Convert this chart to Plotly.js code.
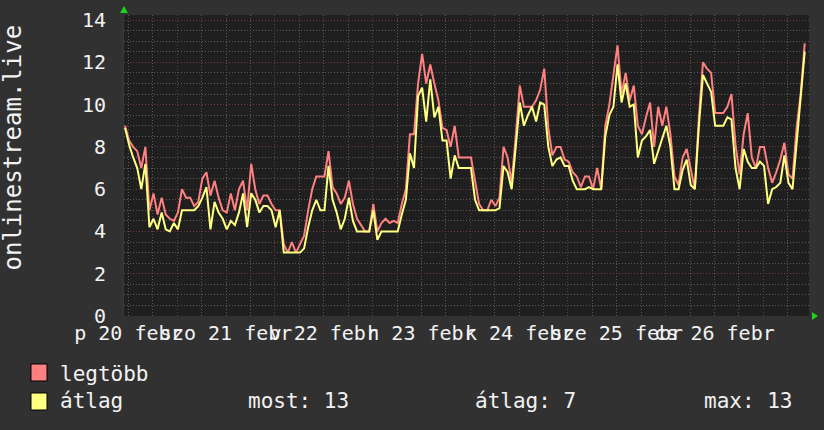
<!DOCTYPE html>
<html>
<head>
<meta charset="utf-8">
<script src="https://cdn.plot.ly/plotly-3.0.1.min.js"></script>
<style>
html,body{margin:0;padding:0;background:#313131;}
#chart{width:824px;height:430px;}
</style>
</head>
<body>
<div id="chart"></div>
<script>
// ---- data (hourly samples) ----
const startTime = "2026-02-20 11:10";
const stepMinutes = 60;

const legtobb = [
 9.0,8.3,8.0,7.8,7.0,8.0,5.0,5.8,4.8,5.6,4.8,4.6,4.5,4.9,6.0,5.6,5.6,5.2,5.4,6.5,
 6.8,5.7,6.4,5.6,5.0,4.9,5.8,5.0,6.0,6.4,5.0,7.2,6.0,5.3,5.7,5.7,5.3,5.0,5.0,3.4,
 3.0,3.5,3.0,3.4,3.8,5.0,6.0,6.6,6.6,6.6,7.8,6.1,5.8,5.3,5.6,6.4,5.3,4.6,4.3,4.0,
 4.0,5.3,4.0,4.4,4.6,4.4,4.5,4.4,5.3,6.0,8.6,8.6,11.0,12.4,11.0,11.9,11.0,10.2,8.9,8.8,
 8.0,9.0,7.5,7.5,7.5,7.5,6.4,5.3,5.0,5.0,5.5,5.2,5.6,8.0,7.5,6.3,8.5,10.9,9.9,9.9,
 9.9,10.2,10.7,11.7,8.9,7.6,8.0,8.0,7.4,7.3,6.8,6.6,6.1,6.6,6.6,6.0,7.0,6.0,9.0,10.0,
 11.5,12.8,10.5,11.5,10.2,10.9,9.0,8.6,9.4,10.1,8.0,9.9,9.0,9.9,8.6,6.6,6.2,7.5,7.9,7.0,
 6.0,9.4,12.0,11.7,11.5,9.6,9.6,9.6,9.9,10.5,8.1,6.7,8.6,9.6,7.5,7.0,8.0,8.0,7.0,6.3,
 6.8,7.4,8.2,6.7,6.5,8.9,10.5,12.9
];
const atlag = [
 8.9,8.1,7.5,7.0,6.0,7.2,4.2,4.6,4.1,4.9,4.1,4.0,4.4,4.1,5.0,5.0,5.0,5.0,5.2,5.6,
 6.1,4.1,5.4,4.9,4.6,4.1,4.5,4.3,4.9,5.8,4.2,5.8,5.5,4.9,5.2,5.2,5.0,4.2,5.0,3.0,
 3.0,3.0,3.0,3.0,3.2,4.2,5.0,5.5,5.0,5.0,7.1,5.5,4.9,4.1,4.6,5.6,4.5,4.0,4.0,4.0,
 4.0,5.0,3.6,4.0,4.0,4.0,4.0,4.0,4.8,5.5,7.7,7.0,10.4,10.8,9.2,11.2,9.4,9.9,8.3,8.3,
 6.5,7.6,7.0,7.0,7.0,7.0,5.5,5.0,5.0,5.0,5.0,5.0,5.1,7.1,6.8,6.0,8.0,10.1,9.0,9.5,
 9.9,9.2,10.1,10.0,8.0,7.1,7.4,7.5,7.1,7.1,6.4,6.0,6.0,6.0,6.1,6.0,6.0,6.0,8.5,9.5,
 9.9,11.9,10.1,11.0,9.9,10.0,7.5,8.3,8.5,8.8,7.2,7.8,8.4,9.0,8.0,6.0,6.0,6.9,7.4,6.2,
 6.0,9.0,11.4,11.0,10.6,9.0,9.0,9.0,9.4,9.3,7.0,6.0,7.9,7.3,7.0,7.0,7.3,7.1,5.3,6.0,
 6.1,6.3,7.6,6.3,6.0,8.2,10.3,12.5
];

const dayLabels = ["p 20 febr","szo 21 febr","v 22 febr","h 23 febr","k 24 febr","sze 25 febr","cs 26 febr"];
const dayNoons  = ["2026-02-20 12:00","2026-02-21 12:00","2026-02-22 12:00","2026-02-23 12:00",
                   "2026-02-24 12:00","2026-02-25 12:00","2026-02-26 12:00"];
const yTickVals = [0,2,4,6,8,10,12,14];

const seriesNames = ["legtöbb","átlag"];
const seriesColors = ["#ff8080","#ffff80"];
const statLabels = ["most: 13","átlag: 7","max: 13"];
const yTitle = "onlinestream.live";

// ---- helpers ----
function pad(n){return (n<10?"0":"")+n;}
function fmt(ms){
  const d=new Date(ms);
  return d.getUTCFullYear()+"-"+pad(d.getUTCMonth()+1)+"-"+pad(d.getUTCDate())+" "+
         pad(d.getUTCHours())+":"+pad(d.getUTCMinutes())+":"+pad(d.getUTCSeconds());
}
function parse(s){
  const [a,b]=s.split(" ");const [Y,M,D]=a.split("-").map(Number);const [h,m]=b.split(":").map(Number);
  return Date.UTC(Y,M-1,D,h,m);
}
const t0 = parse(startTime);
const step = stepMinutes*60000;
const xs = legtobb.map((_,i)=>fmt(t0+i*step));
const H = 3600000;
const xRange = [fmt(t0-0.25*H), fmt(t0+168.05*H)];

const FONT = "DejaVu Sans Mono";
const txt = "#f2f2f2";

const traces = [
  {x:xs, y:legtobb, name:seriesNames[0], type:"scatter", mode:"lines",
   line:{color:seriesColors[0], width:2}, xaxis:"x", yaxis:"y", hoverinfo:"skip"},
  {x:xs, y:atlag, name:seriesNames[1], type:"scatter", mode:"lines",
   line:{color:seriesColors[1], width:2}, xaxis:"x2", yaxis:"y", hoverinfo:"skip"}
];

// legend / stats / y title as annotations
const annotations = [
  {text:yTitle, xref:"paper", yref:"paper", x:-0.1635, y:0.5598, xanchor:"center", yanchor:"middle",
   textangle:-90, showarrow:false, font:{family:FONT,size:24,color:txt}},
  {text:seriesNames[0], xref:"paper", yref:"paper", x:-0.0964, y:-0.1927, xanchor:"left", yanchor:"middle",
   showarrow:false, font:{family:FONT,size:21,color:txt}},
  {text:seriesNames[1], xref:"paper", yref:"paper", x:-0.0964, y:-0.2824, xanchor:"left", yanchor:"middle",
   showarrow:false, font:{family:FONT,size:21,color:txt}},
  {text:statLabels[0], xref:"paper", yref:"paper", x:0.1781, y:-0.2824, xanchor:"left", yanchor:"middle",
   showarrow:false, font:{family:FONT,size:21,color:txt}},
  {text:statLabels[1], xref:"paper", yref:"paper", x:0.5095, y:-0.2824, xanchor:"left", yanchor:"middle",
   showarrow:false, font:{family:FONT,size:21,color:txt}},
  {text:statLabels[2], xref:"paper", yref:"paper", x:0.8438, y:-0.2824, xanchor:"left", yanchor:"middle",
   showarrow:false, font:{family:FONT,size:21,color:txt}}
];

const shapes = [
  {type:"rect", xref:"paper", yref:"paper", x0:-0.1358, x1:-0.1124, y0:-0.1595, y1:-0.2159,
   fillcolor:seriesColors[0], line:{color:"#000000", width:1}},
  {type:"rect", xref:"paper", yref:"paper", x0:-0.1358, x1:-0.1124, y0:-0.2558, y1:-0.3123,
   fillcolor:seriesColors[1], line:{color:"#000000", width:1}},
  // axis arrows
  {type:"path", xref:"paper", yref:"paper", path:"M -0.0058,1.0066 L 0.0058,1.0066 L 0,1.0299 Z",
   fillcolor:"#1ed31e", line:{color:"#1ed31e", width:0}},
  {type:"path", xref:"paper", yref:"paper", path:"M 1.0044,0.0133 L 1.0044,-0.0133 L 1.0131,0 Z",
   fillcolor:"#1ed31e", line:{color:"#1ed31e", width:0}}
];

const layout = {
  width:824, height:430,
  margin:{l:124, r:15, t:15, b:114, pad:0},
  paper_bgcolor:"#313131",
  plot_bgcolor:"#1f1f1f",
  showlegend:false,
  font:{family:FONT, size:20, color:txt},
  xaxis:{
    type:"date", range:xRange, showticklabels:false, ticks:"",
    tickmode:"linear", tick0:"2026-02-21 00:00", dtick:86400000,
    showgrid:true, gridcolor:"#6e3a3a", griddash:"1px,2px", gridwidth:1,
    minor:{dtick:21600000, tick0:"2026-02-21 00:00", showgrid:true, gridcolor:"#5a5a5a", griddash:"1px,2px", gridwidth:1},
    zeroline:false, showline:false, fixedrange:true
  },
  xaxis2:{
    type:"date", overlaying:"x", matches:"x", anchor:"y", side:"bottom",
    range:xRange,
    tickmode:"array", tickvals:dayNoons, ticktext:dayLabels, tickangle:0,
    ticks:"", ticklabelstandoff:3,
    tickfont:{family:FONT, size:20, color:txt},
    showgrid:false, zeroline:false, showline:false, fixedrange:true
  },
  yaxis:{
    range:[0,14.24], tickmode:"array", tickvals:yTickVals, ticks:"",
    ticklabelstandoff:13,
    tickfont:{family:FONT, size:20, color:txt},
    showgrid:true, gridcolor:"#6e3a3a", griddash:"1px,2px", gridwidth:1,
    minor:{dtick:0.5, tick0:0, showgrid:true, gridcolor:"#5a5a5a", griddash:"1px,2px", gridwidth:1},
    zeroline:false, showline:true, linecolor:"#3a3a3a", linewidth:1, fixedrange:true
  },
  annotations:annotations,
  shapes:shapes
};

Plotly.newPlot("chart", traces, layout, {staticPlot:true, displayModeBar:false});
</script>
</body>
</html>
